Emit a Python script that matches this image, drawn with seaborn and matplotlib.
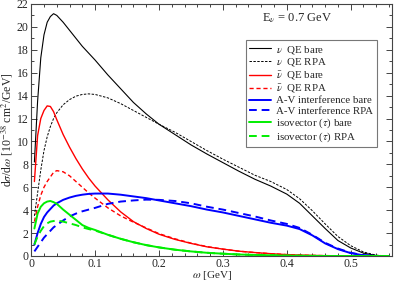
import matplotlib
matplotlib.use("Agg")
from matplotlib import pyplot as plt
from matplotlib.ticker import MultipleLocator, FuncFormatter
import pandas as pd
import seaborn as sns

# omega grid [GeV] and cross sections [10^-38 cm^2/GeV]
omega = [0.005, 0.01, 0.015, 0.02, 0.025, 0.03, 0.035, 0.04, 0.05, 0.06,
         0.07, 0.08, 0.09, 0.1, 0.12, 0.14, 0.16, 0.18, 0.2, 0.225,
         0.25, 0.275, 0.3, 0.325, 0.35, 0.375, 0.4, 0.42, 0.44, 0.46,
         0.48, 0.5, 0.52, 0.54, 0.56]

nu_bare = [8.2, 13.5, 17.3, 19.3, 20.4, 20.9, 21.15, 21.0, 20.4, 19.7,
           19.0, 18.3, 17.7, 17.1, 15.8, 14.6, 13.4, 12.4, 11.5, 10.6,
           9.7, 8.9, 8.15, 7.4, 6.7, 6.1, 5.4, 4.6, 3.5, 2.4,
           1.35, 0.7, 0.25, 0.04, 0.0]
nu_rpa = [3.5, 5.5, 7.5, 9.2, 10.4, 11.3, 12.0, 12.5, 13.2, 13.65,
          13.95, 14.1, 14.15, 14.1, 13.8, 13.3, 12.7, 12.1, 11.5, 10.8,
          10.0, 9.2, 8.45, 7.75, 7.05, 6.5, 5.8, 5.0, 3.95, 2.8,
          1.7, 0.9, 0.35, 0.07, 0.0]
nubar_bare = [6.5, 10.5, 12.0, 12.7, 13.1, 13.05, 12.6, 11.9, 10.6, 9.5,
              8.5, 7.6, 6.8, 6.1, 4.9, 3.85, 3.0, 2.4, 1.9, 1.45,
              1.1, 0.8, 0.6, 0.42, 0.3, 0.2, 0.12, 0.08, 0.05, 0.03,
              0.02, 0.01, 0.0, 0.0, 0.0]
nubar_rpa = [3.0, 4.3, 5.3, 6.0, 6.5, 6.9, 7.3, 7.45, 7.35, 7.0,
             6.5, 6.0, 5.5, 5.05, 4.2, 3.5, 2.95, 2.45, 1.95, 1.5,
             1.12, 0.82, 0.6, 0.42, 0.3, 0.2, 0.12, 0.08, 0.05, 0.03,
             0.02, 0.01, 0.0, 0.0, 0.0]
av_bare = [1.0, 2.0, 2.8, 3.4, 3.8, 4.1, 4.4, 4.6, 4.9, 5.1,
           5.25, 5.35, 5.42, 5.45, 5.45, 5.35, 5.2, 5.05, 4.85, 4.6,
           4.35, 4.05, 3.8, 3.5, 3.2, 2.9, 2.65, 2.35, 1.8, 1.1,
           0.6, 0.25, 0.06, 0.0, 0.0]
av_rpa = [0.4, 0.8, 1.2, 1.6, 1.9, 2.2, 2.5, 2.7, 3.1, 3.45,
          3.7, 3.9, 4.05, 4.2, 4.55, 4.75, 4.85, 4.92, 4.9, 4.8,
          4.6, 4.3, 4.05, 3.75, 3.45, 3.1, 2.8, 2.45, 1.85, 1.15,
          0.65, 0.28, 0.07, 0.0, 0.0]
iso_bare = [2.4, 3.7, 4.3, 4.6, 4.75, 4.8, 4.7, 4.55, 4.05, 3.6,
            3.15, 2.7, 2.45, 2.27, 1.85, 1.5, 1.2, 0.95, 0.75, 0.55,
            0.4, 0.28, 0.2, 0.13, 0.09, 0.06, 0.03, 0.02, 0.01, 0.0,
            0.0, 0.0, 0.0, 0.0, 0.0]
iso_rpa = [1.0, 1.7, 2.2, 2.6, 2.85, 3.0, 3.05, 3.1, 3.0, 2.85,
           2.7, 2.5, 2.35, 2.22, 1.85, 1.5, 1.2, 0.95, 0.75, 0.55,
           0.4, 0.28, 0.2, 0.13, 0.09, 0.06, 0.03, 0.02, 0.01, 0.0,
           0.0, 0.0, 0.0, 0.0, 0.0]

labels = [
    r"$\nu$  QE bare", r"$\nu$  QE RPA",
    r"$\bar{\nu}$  QE bare", r"$\bar{\nu}$  QE RPA",
    "A-V interference bare", "A-V interference RPA",
    r"isovector ($\tau$) bare", r"isovector ($\tau$) RPA",
]
series = [nu_bare, nu_rpa, nubar_bare, nubar_rpa,
          av_bare, av_rpa, iso_bare, iso_rpa]


def main():
    sns.set_style("ticks")
    plt.rcParams["font.family"] = ["Liberation Serif", "DejaVu Serif"]
    plt.rcParams["mathtext.fontset"] = "stix"

    styles = [
        ("black", "-", 0.8, None),
        ("black", "--", 0.7, (2.5, 1.5)),
        ("red", "-", 1.0, None),
        ("red", "--", 1.0, (3, 2)),
        ("blue", "-", 1.4, None),
        ("blue", "--", 1.4, (4, 2.5)),
        ("#00ee00", "-", 1.4, None),
        ("#00ee00", "--", 1.4, (4, 2.5)),
    ]

    fig = plt.figure(figsize=(3.95, 2.81), dpi=100)
    ax = fig.add_axes([0.079, 0.089, 0.914, 0.897])

    for vals, lab, (col, ls, lw, dash) in zip(series, labels, styles):
        df = pd.DataFrame({"omega": omega, "xs": vals})
        g = sns.lineplot(data=df, x="omega", y="xs", ax=ax, color=col,
                         linestyle=ls, linewidth=lw, label=lab)
        if dash is not None:
            g.get_lines()[-1].set_dashes(dash)

    ax.set_xlim(0, 0.565)
    ax.set_ylim(0, 22)
    ax.xaxis.set_major_locator(MultipleLocator(0.1))
    ax.xaxis.set_minor_locator(MultipleLocator(0.02))
    ax.yaxis.set_major_locator(MultipleLocator(2))
    ax.yaxis.set_minor_locator(MultipleLocator(1))
    ax.xaxis.set_major_formatter(
        FuncFormatter(lambda v, p: "0" if abs(v) < 1e-9 else f"{v:.1f}"))
    ax.tick_params(which="both", direction="in", top=True, right=True,
                   labelsize=8.5, width=0.6, pad=2)
    ax.tick_params(axis="x", which="major", pad=1.5)
    ax.tick_params(which="major", length=4.5)
    ax.tick_params(which="minor", length=2.5)
    for sp in ax.spines.values():
        sp.set_linewidth(0.8)
        sp.set_color("#444444")

    ax.set_xlabel(r"$\omega$ [GeV]", fontsize=8, labelpad=-1)
    ax.set_ylabel(r"d$\sigma$/d$\omega$ [10$^{-38}$ cm$^2$/GeV]",
                  fontsize=8.5, labelpad=1)

    ax.text(0.64, 0.945, r"E$_\nu$ = 0.7 GeV", transform=ax.transAxes,
            fontsize=9, va="center", ha="left")

    leg = ax.legend(loc="upper right", bbox_to_anchor=(0.957, 0.857),
                    fontsize=7.8, frameon=True, fancybox=False,
                    edgecolor="#555555", handlelength=2.0,
                    labelspacing=0.05, borderpad=0.35, handletextpad=0.45,
                    borderaxespad=0)
    leg.get_frame().set_linewidth(0.8)

    fig.savefig("out.png", dpi=100)


if __name__ == "__main__":
    main()
